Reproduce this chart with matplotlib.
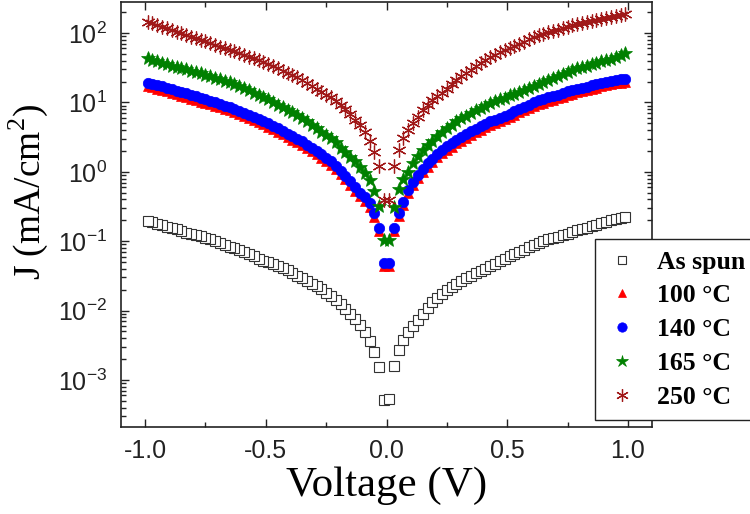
import matplotlib
matplotlib.use("Agg")
import matplotlib.pyplot as plt
from matplotlib.ticker import LogLocator, MultipleLocator, NullFormatter

plt.rcParams['font.family'] = ['Liberation Sans', 'DejaVu Sans']
plt.rcParams['axes.unicode_minus'] = False

# voltage grid (V), split into negative and positive sweep halves
v_neg = [-0.01, -0.03, -0.05, -0.07, -0.09, -0.11, -0.13, -0.15, -0.17, -0.19,
         -0.21, -0.23, -0.25, -0.27, -0.29, -0.31, -0.33, -0.35, -0.37, -0.39,
         -0.41, -0.43, -0.45, -0.47, -0.49, -0.51, -0.53, -0.55, -0.57, -0.59,
         -0.61, -0.63, -0.65, -0.67, -0.69, -0.71, -0.73, -0.75, -0.77, -0.79,
         -0.81, -0.83, -0.85, -0.87, -0.89, -0.91, -0.93, -0.95, -0.97, -0.99]
v_pos = [0.01, 0.03, 0.05, 0.07, 0.09, 0.11, 0.13, 0.15, 0.17, 0.19,
         0.21, 0.23, 0.25, 0.27, 0.29, 0.31, 0.33, 0.35, 0.37, 0.39,
         0.41, 0.43, 0.45, 0.47, 0.49, 0.51, 0.53, 0.55, 0.57, 0.59,
         0.61, 0.63, 0.65, 0.67, 0.69, 0.71, 0.73, 0.75, 0.77, 0.79,
         0.81, 0.83, 0.85, 0.87, 0.89, 0.91, 0.93, 0.95, 0.97, 0.99]

# current density J (mA/cm^2)
as_spun_neg = [5.13e-4, 1.55e-3, 2.57e-3, 3.63e-3, 4.90e-3, 6.17e-3, 7.59e-3, 8.91e-3, 1.05e-2, 1.23e-2,
               1.41e-2, 1.62e-2, 1.82e-2, 2.04e-2, 2.24e-2, 2.45e-2, 2.69e-2, 2.95e-2, 3.20e-2, 3.47e-2,
               3.80e-2, 4.07e-2, 4.37e-2, 4.68e-2, 5.01e-2, 5.25e-2, 5.62e-2, 6.03e-2, 6.46e-2, 6.92e-2,
               7.41e-2, 7.85e-2, 8.32e-2, 8.91e-2, 9.55e-2, 0.101, 0.107, 0.112, 0.117, 0.123,
               0.127, 0.133, 0.140, 0.148, 0.155, 0.162, 0.170, 0.178, 0.186, 0.195]
as_spun_pos = [5.25e-4, 1.58e-3, 2.66e-3, 3.80e-3, 4.90e-3, 6.03e-3, 7.41e-3, 9.02e-3, 1.10e-2, 1.32e-2,
               1.51e-2, 1.74e-2, 2.00e-2, 2.21e-2, 2.43e-2, 2.69e-2, 2.92e-2, 3.16e-2, 3.43e-2, 3.72e-2,
               3.98e-2, 4.37e-2, 4.73e-2, 5.13e-2, 5.50e-2, 6.03e-2, 6.46e-2, 7.08e-2, 7.59e-2, 8.22e-2,
               8.81e-2, 9.33e-2, 0.100, 0.106, 0.111, 0.116, 0.123, 0.129, 0.135, 0.143,
               0.150, 0.157, 0.164, 0.172, 0.180, 0.191, 0.200, 0.207, 0.216, 0.224]

t100_neg = [0.0440, 0.138, 0.226, 0.316, 0.380, 0.441, 0.537, 0.652, 0.786, 0.925,
            1.09, 1.27, 1.41, 1.58, 1.78, 1.97, 2.18, 2.45, 2.66, 2.91,
            3.16, 3.46, 3.76, 4.11, 4.46, 4.83, 5.18, 5.49, 5.88, 6.30,
            6.76, 7.24, 7.66, 8.03, 8.50, 8.90, 9.35, 9.88, 10.3, 10.9,
            11.3, 12.0, 12.5, 13.2, 13.8, 14.4, 15.1, 15.8, 16.6, 17.0]
t100_pos = [0.0440, 0.138, 0.229, 0.331, 0.490, 0.644, 0.803, 0.988, 1.17, 1.38,
            1.62, 1.84, 2.06, 2.31, 2.56, 2.81, 3.12, 3.43, 3.71, 4.07,
            4.36, 4.73, 5.00, 5.37, 5.68, 6.09, 6.59, 7.16, 7.75, 8.30,
            8.90, 9.52, 9.97, 10.6, 11.0, 11.6, 12.1, 12.9, 13.4, 14.0,
            14.4, 15.0, 15.7, 16.4, 17.0, 17.8, 18.2, 18.8, 19.2, 19.7]

t140_neg = [0.0490, 0.155, 0.254, 0.355, 0.427, 0.495, 0.603, 0.733, 0.883, 1.04,
            1.23, 1.43, 1.58, 1.78, 2.00, 2.21, 2.45, 2.75, 2.99, 3.27,
            3.55, 3.89, 4.22, 4.62, 5.01, 5.43, 5.82, 6.17, 6.61, 7.08,
            7.59, 8.13, 8.61, 9.02, 9.55, 10.0, 10.5, 11.1, 11.6, 12.2,
            12.7, 13.5, 14.1, 14.8, 15.5, 16.2, 17.0, 17.8, 18.6, 19.1]
t140_pos = [0.0490, 0.155, 0.257, 0.372, 0.550, 0.724, 0.902, 1.11, 1.32, 1.55,
            1.82, 2.07, 2.32, 2.60, 2.88, 3.16, 3.51, 3.85, 4.17, 4.57,
            4.90, 5.31, 5.62, 6.03, 6.38, 6.84, 7.41, 8.04, 8.71, 9.33,
            10.0, 10.7, 11.2, 11.9, 12.4, 13.0, 13.6, 14.5, 15.1, 15.7,
            16.2, 16.8, 17.6, 18.4, 19.1, 20.0, 20.4, 21.1, 21.6, 22.1]

t165_neg = [0.105, 0.324, 0.537, 0.767, 0.977, 1.19, 1.41, 1.66, 1.91, 2.24,
            2.66, 3.02, 3.39, 3.80, 4.27, 4.79, 5.31, 5.96, 6.53, 7.16,
            7.76, 8.51, 9.33, 10.2, 11.1, 11.9, 12.9, 13.8, 15.0, 16.0,
            17.4, 18.6, 19.7, 20.4, 21.4, 22.6, 23.7, 24.8, 26.3, 27.5,
            28.5, 29.9, 31.3, 32.4, 33.9, 35.5, 37.2, 38.9, 41.2, 43.7]
t165_pos = [0.105, 0.316, 0.562, 0.776, 1.01, 1.35, 1.70, 2.04, 2.40, 2.82,
            3.31, 3.80, 4.27, 4.79, 5.31, 5.89, 6.46, 7.08, 7.67, 8.32,
            9.02, 9.77, 10.5, 11.1, 11.7, 12.6, 13.3, 14.3, 15.3, 16.4,
            17.4, 18.6, 20.0, 21.1, 22.6, 24.0, 25.7, 27.5, 29.2, 30.9,
            32.4, 33.9, 35.5, 37.2, 38.9, 40.7, 42.7, 45.2, 47.9, 50.7]

t250_neg = [0.398, 1.20, 1.95, 2.75, 3.80, 4.68, 5.62, 6.76, 7.94, 9.12,
            10.5, 11.9, 13.0, 14.3, 15.7, 17.4, 19.1, 20.9, 23.2, 25.1,
            26.9, 28.8, 30.9, 33.5, 35.9, 38.5, 40.7, 43.2, 45.7, 48.4,
            51.3, 54.3, 57.3, 60.3, 63.8, 67.6, 71.6, 75.9, 79.4, 84.1,
            89.1, 94.4, 98.9, 105, 111, 117, 123, 130, 138, 145]
t250_pos = [0.398, 1.23, 2.09, 3.02, 3.98, 5.01, 6.17, 7.67, 9.33, 10.7,
            12.2, 13.8, 15.8, 18.4, 21.1, 23.7, 26.3, 29.5, 33.1, 36.7,
            41.2, 44.7, 48.4, 52.5, 56.2, 60.3, 64.6, 70.0, 75.0, 81.3,
            87.1, 92.3, 97.7, 102, 107, 112, 119, 124, 130, 135,
            140, 145, 148, 153, 158, 164, 168, 174, 180, 186]

labels = ['As spun', '100 \u00b0C', '140 \u00b0C', '165 \u00b0C', '250 \u00b0C']

fig = plt.figure(figsize=(7.5, 5.14), dpi=100)
ax = fig.add_axes([121 / 750, 87 / 514, 531 / 750, 425 / 514])

ax.plot(v_neg + v_pos, as_spun_neg + as_spun_pos, ls='none', marker='s', ms=6.5,
        mfc='white', mec='#333333', mew=0.8, label=labels[0])
ax.plot(v_neg + v_pos, t100_neg + t100_pos, ls='none', marker='^', ms=7,
        mfc='#ff0000', mec='#ff0000', mew=0.5, label=labels[1])
ax.plot(v_neg + v_pos, t140_neg + t140_pos, ls='none', marker='o', ms=7.5,
        mfc='#0000ff', mec='#0000ff', mew=0.5, label=labels[2])
ax.plot(v_neg + v_pos, t165_neg + t165_pos, ls='none', marker='*', ms=10,
        mfc='#008000', mec='#008000', mew=0.5, label=labels[3])
ax.plot(v_neg + v_pos, t250_neg + t250_pos, ls='none', marker=(6, 2, 0), ms=10,
        mec='#a01818', mew=0.9, label=labels[4])

ax.set_yscale('log')
ax.set_xlim(-1.1, 1.1)
ax.set_ylim(2.1e-4, 280)
ax.xaxis.set_major_locator(MultipleLocator(0.5))
ax.xaxis.set_minor_locator(MultipleLocator(0.25))
ax.yaxis.set_major_locator(LogLocator(base=10, numticks=20))
ax.yaxis.set_minor_locator(LogLocator(base=10, subs=range(2, 10), numticks=20))
ax.yaxis.set_minor_formatter(NullFormatter())
ax.xaxis.set_major_formatter(plt.FuncFormatter(lambda x, p: '%.1f' % x))

ax.tick_params(which='both', direction='in', top=True, right=True, width=1, colors='#222222')
ax.tick_params(which='major', length=6, labelsize=18, pad=9)
ax.tick_params(which='minor', length=3.5)
ax.tick_params(axis='y', which='major', pad=10)
for s in ax.spines.values():
    s.set_linewidth(1.2)
    s.set_color('#222222')

ax.set_xlabel('Voltage (V)', family='Liberation Serif', fontsize=31, labelpad=2)
ax.set_ylabel('J (mA/cm$^\\mathregular{2}$)', family='Liberation Serif', fontsize=27)
ax.yaxis.set_label_coords(-0.134, 0.554)

leg = ax.legend(loc='upper left', bbox_to_anchor=(595 / 750, 1 - 239 / 514),
                bbox_transform=fig.transFigure, borderaxespad=0,
                prop={'family': 'Liberation Serif', 'weight': 'bold', 'size': 18.5},
                fancybox=False, framealpha=1, edgecolor='#222222',
                handletextpad=0.75, labelspacing=0.42, borderpad=0.45,
                handlelength=1.2, markerscale=0.9)
leg.get_frame().set_linewidth(1.0)

fig.savefig('out.png', dpi=100)
